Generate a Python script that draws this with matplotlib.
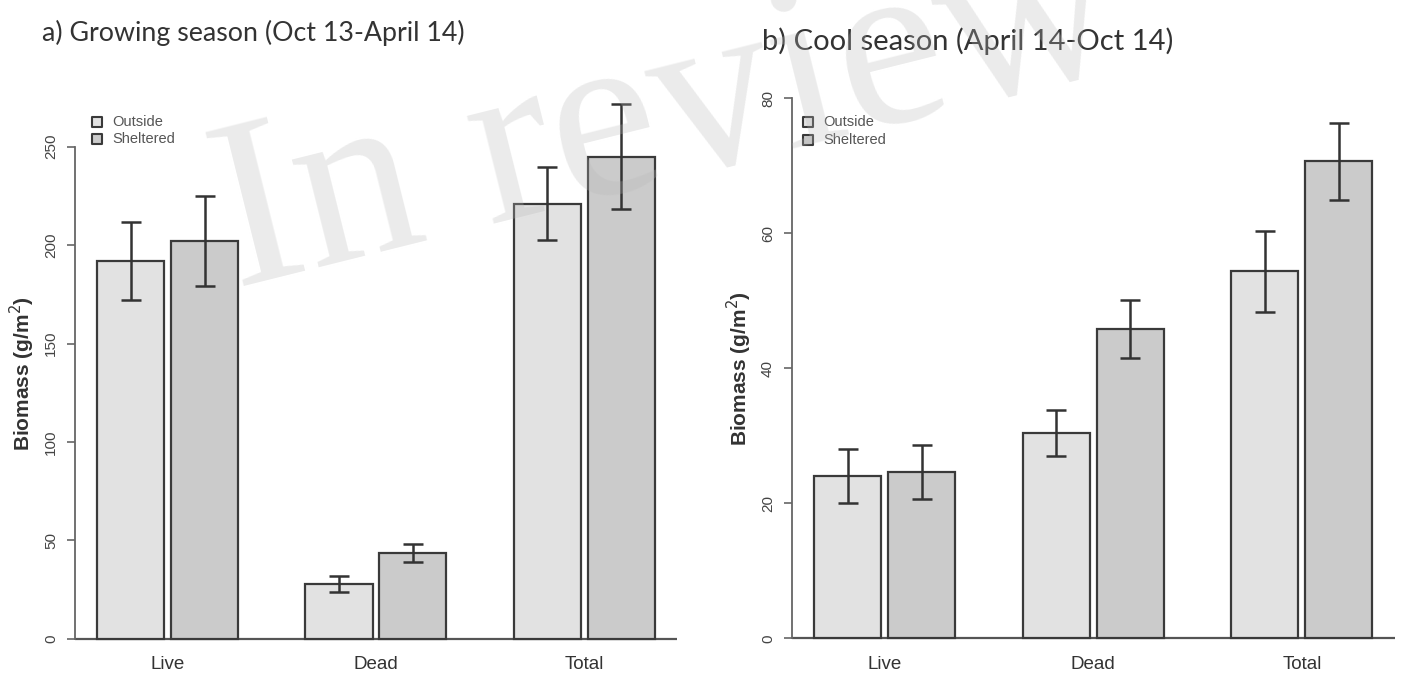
import matplotlib.pyplot as plt
import numpy as np

groups = ['Live', 'Dead', 'Total']
series = ['Outside', 'Sheltered']

# a) growing season
grow_out = [192, 28, 221]
grow_out_err = [20, 4, 18.5]
grow_sh = [202, 43.5, 245]
grow_sh_err = [23, 4.7, 26.5]

# b) cool season
cool_out = [24, 30.4, 54.4]
cool_out_err = [4, 3.4, 6]
cool_sh = [24.7, 45.9, 70.7]
cool_sh_err = [4, 4.3, 5.7]

c_out = '#e2e2e2'
c_sh = '#cbcbcb'
edge = '#3a3a3a'

fig = plt.figure(figsize=(14.01, 6.84), dpi=100)
plt.rcParams['font.family'] = ['Liberation Sans', 'DejaVu Sans']


def panel(rect, out, out_err, sh, sh_err, ylim, ticks, leg_xy):
    ax = fig.add_axes(rect)
    idx = np.arange(len(groups))
    x_out = idx * 3.1 + 0.5
    x_sh = x_out + 1.1
    ax.bar(x_out, out, width=1, color=c_out, edgecolor=edge, linewidth=1.6, zorder=2)
    ax.bar(x_sh, sh, width=1, color=c_sh, edgecolor=edge, linewidth=1.6, zorder=2)
    ax.errorbar(x_out, out, yerr=out_err, fmt='none', ecolor='#333333',
                elinewidth=1.8, capsize=7.5, capthick=1.8, zorder=3)
    ax.errorbar(x_sh, sh, yerr=sh_err, fmt='none', ecolor='#333333',
                elinewidth=1.8, capsize=7.5, capthick=1.8, zorder=3)
    ax.axhline(0, color='#555555', lw=1.6, zorder=1)
    ax.set_xlim(-0.332, 8.632)
    ax.set_ylim(*ylim)
    ax.set_yticks(ticks)
    ax.set_yticklabels([str(t) for t in ticks], rotation=90, va='center',
                       fontsize=11, color='#444444')
    ax.set_xticks(x_out + 0.55)
    ax.set_xticklabels(groups, fontsize=13.5, color='#333333')
    ax.tick_params(axis='x', length=0, pad=-3)
    ax.tick_params(axis='y', length=6, width=1.2, color='#666666', pad=6)
    for s in ['top', 'right', 'bottom']:
        ax.spines[s].set_visible(False)
    ax.spines['left'].set_bounds(ticks[0], ticks[-1])
    ax.spines['left'].set_color('#666666')
    ax.spines['left'].set_linewidth(1.3)
    ax.set_ylabel('Biomass (g/m$^2$)', fontsize=15, fontweight='bold',
                  color='#333333', labelpad=5)
    ax.patch.set_alpha(0)
    # legend boxes
    lx, ly = leg_xy
    for k, (name, col) in enumerate(zip(series, [c_out, c_sh])):
        yy = ly - k * 0.03
        ax.scatter([lx], [yy], marker='s', s=60, facecolor=col, edgecolor=edge,
                   linewidth=1.5, transform=ax.transAxes, clip_on=False, zorder=4)
        ax.text(lx + 0.025, yy, name, transform=ax.transAxes, fontsize=10.5,
                color='#555555', va='center', ha='left')
    return ax


ax1 = panel([0.0535, 0.0351, 0.4297, 0.839], grow_out, grow_out_err, grow_sh, grow_sh_err,
            (-10.8, 280.8), [0, 50, 100, 150, 200, 250], (0.037, 0.938))
ax2 = panel([0.565, 0.0351, 0.4306, 0.8526], cool_out, cool_out_err, cool_sh, cool_sh_err,
            (-3.2, 83.2), [0, 20, 40, 60, 80], (0.028, 0.922))

fig.text(0.03, 0.952, 'a) Growing season (Oct 13-April 14)', fontsize=19.3,
         family='Lato', color='#333333', va='center', ha='left')
fig.text(0.544, 0.94, 'b) Cool season (April 14-Oct 14)', fontsize=21,
         family='Lato', color='#333333', va='center', ha='left')

fig.text(0.476, 0.824, 'In review', fontsize=174, family='Liberation Serif',
         color='#b8b8b8', alpha=0.28, rotation=14, ha='center', va='center', zorder=10)

fig.savefig('out.png', dpi=100)
